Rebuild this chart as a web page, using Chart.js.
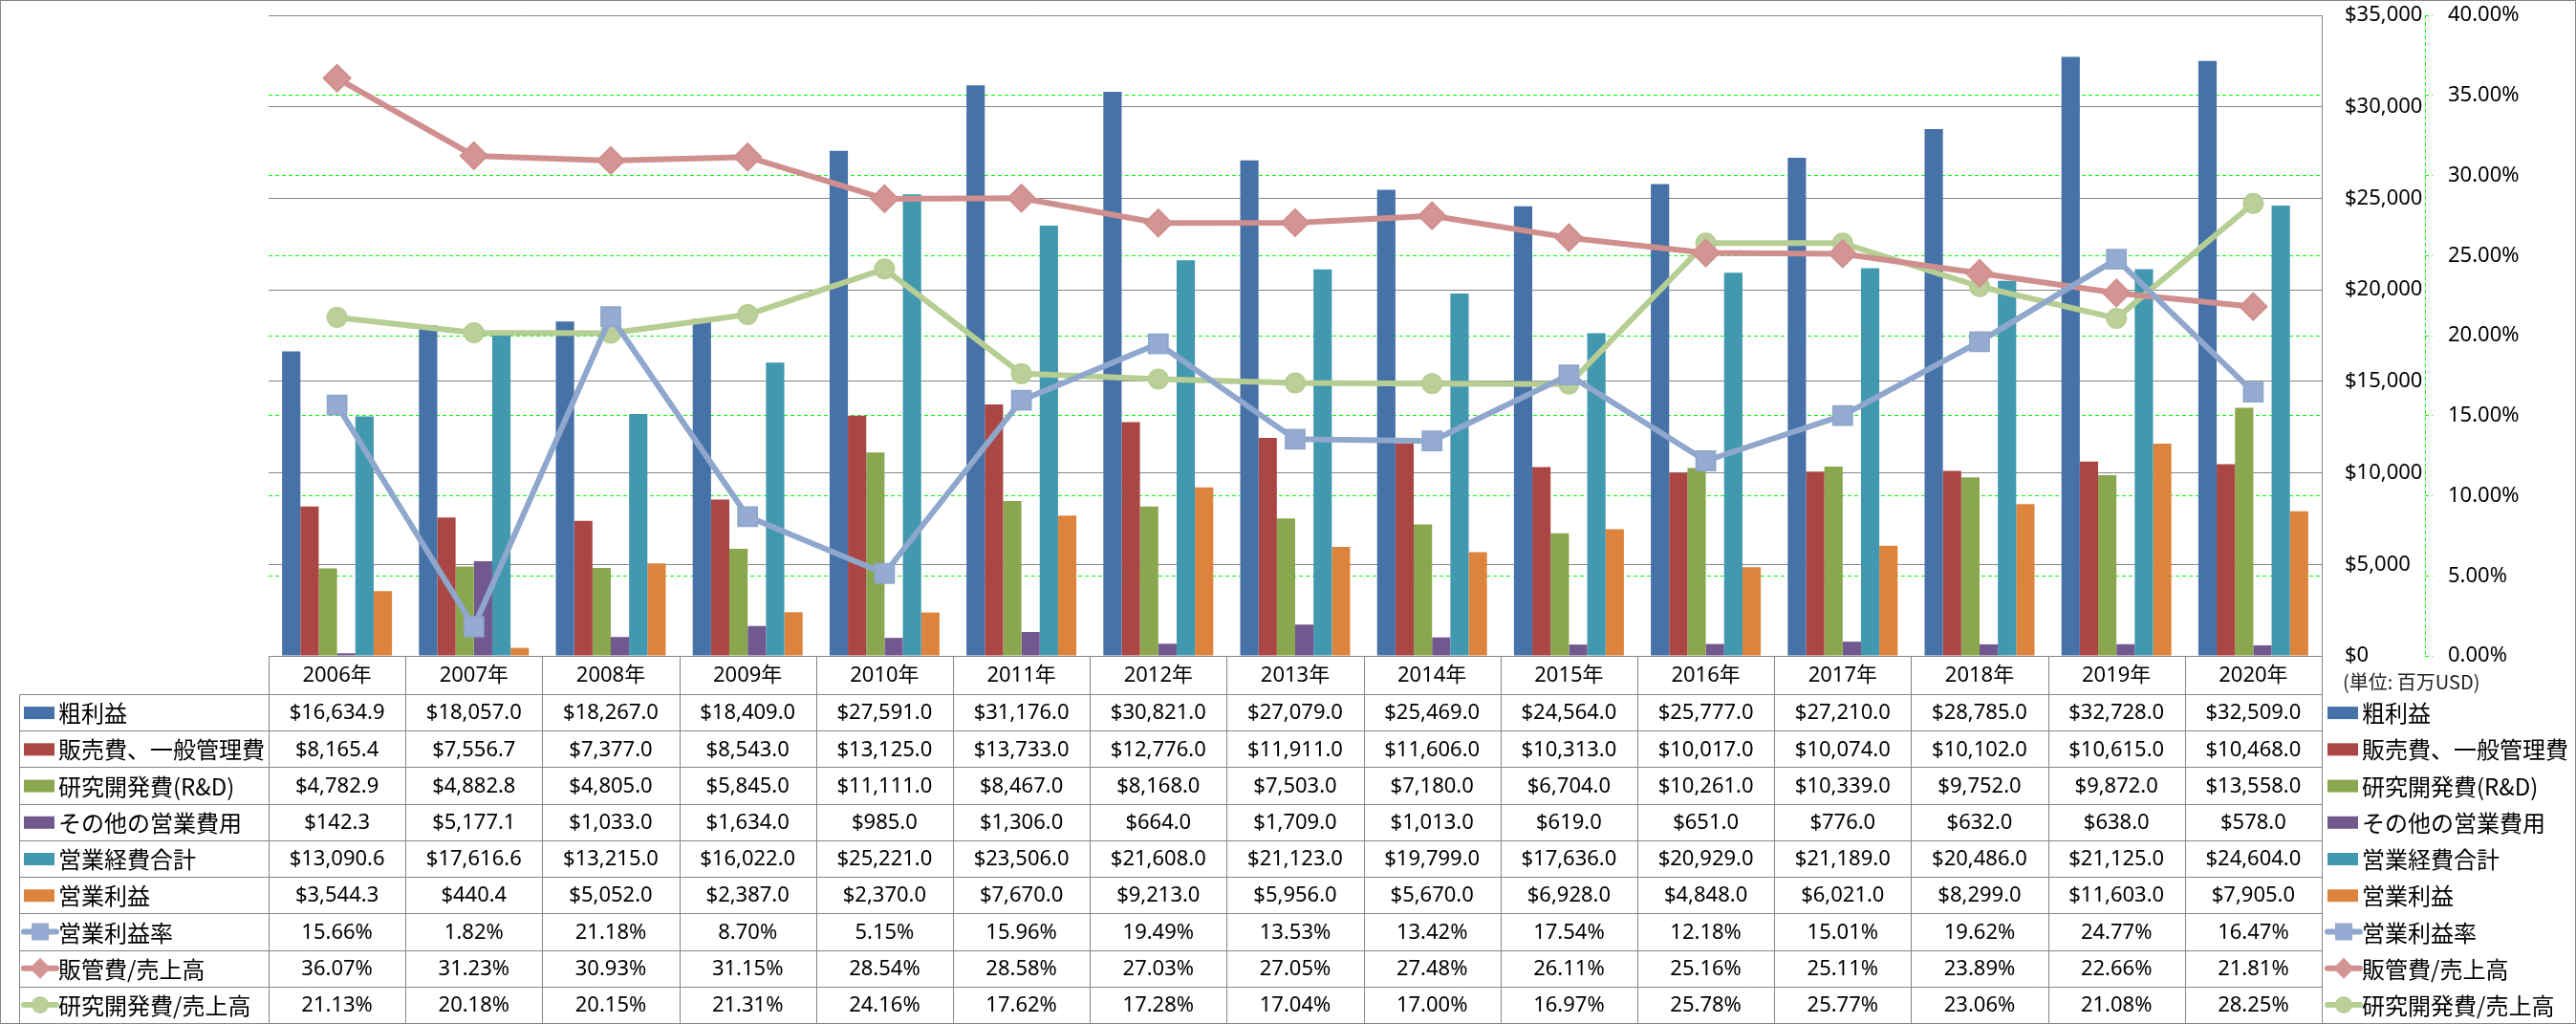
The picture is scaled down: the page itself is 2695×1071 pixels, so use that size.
<!DOCTYPE html>
<html>
  <head>
    <meta charset="utf-8">
    <title>営業利益推移</title>
    <script src="https://cdn.jsdelivr.net/npm/chart.js@4.4.0/dist/chart.umd.min.js"></script>
    <style media="screen">
      body {
        margin: 0;
        background-color: #ffffff;
      }
      #chartBox {
        width: 2695px;
        height: 1071px;
      }
    </style>
  </head>
  <body>
    <div id="chartBox">
      <canvas id="myChart" width="2695" height="1071"></canvas>
    </div>
  </body>
  <script>
    // values (百万USD / %)
    const years = ['2006年', '2007年', '2008年', '2009年', '2010年', '2011年', '2012年', '2013年',
                   '2014年', '2015年', '2016年', '2017年', '2018年', '2019年', '2020年'];
    const grossProfit = [16634.9, 18057.0, 18267.0, 18409.0, 27591.0, 31176.0, 30821.0, 27079.0,
                         25469.0, 24564.0, 25777.0, 27210.0, 28785.0, 32728.0, 32509.0];
    const sgaExpense = [8165.4, 7556.7, 7377.0, 8543.0, 13125.0, 13733.0, 12776.0, 11911.0,
                        11606.0, 10313.0, 10017.0, 10074.0, 10102.0, 10615.0, 10468.0];
    const rdExpense = [4782.9, 4882.8, 4805.0, 5845.0, 11111.0, 8467.0, 8168.0, 7503.0,
                       7180.0, 6704.0, 10261.0, 10339.0, 9752.0, 9872.0, 13558.0];
    const otherExpense = [142.3, 5177.1, 1033.0, 1634.0, 985.0, 1306.0, 664.0, 1709.0,
                          1013.0, 619.0, 651.0, 776.0, 632.0, 638.0, 578.0];
    const totalOpex = [13090.6, 17616.6, 13215.0, 16022.0, 25221.0, 23506.0, 21608.0, 21123.0,
                       19799.0, 17636.0, 20929.0, 21189.0, 20486.0, 21125.0, 24604.0];
    const opIncome = [3544.3, 440.4, 5052.0, 2387.0, 2370.0, 7670.0, 9213.0, 5956.0,
                      5670.0, 6928.0, 4848.0, 6021.0, 8299.0, 11603.0, 7905.0];
    const opMargin = [15.66, 1.82, 21.18, 8.70, 5.15, 15.96, 19.49, 13.53,
                      13.42, 17.54, 12.18, 15.01, 19.62, 24.77, 16.47];
    const sgaRatio = [36.07, 31.23, 30.93, 31.15, 28.54, 28.58, 27.03, 27.05,
                      27.48, 26.11, 25.16, 25.11, 23.89, 22.66, 21.81];
    const rdRatio = [21.13, 20.18, 20.15, 21.31, 24.16, 17.62, 17.28, 17.04,
                     17.00, 16.97, 25.78, 25.77, 23.06, 21.08, 28.25];

    const dollarTicks = [0, 5000, 10000, 15000, 20000, 25000, 30000, 35000];
    const pctTicks = [0, 5, 10, 15, 20, 25, 30, 35, 40];

    const gridGray = '#868686';
    const green = '#00ff00';
    const latinFont = '"Noto Sans", "Noto Sans CJK JP", sans-serif';
    const cjkFont = '"Noto Sans CJK JP", "Noto Sans", sans-serif';

    // series shown as bars (left to right inside a year)
    const barSeries = [
      {label: '粗利益', data: grossProfit, color: '#4672a8'},
      {label: '販売費、一般管理費', data: sgaExpense, color: '#aa4744'},
      {label: '研究開発費(R&D)', data: rdExpense, color: '#8aa64e'},
      {label: 'その他の営業費用', data: otherExpense, color: '#71598f'},
      {label: '営業経費合計', data: totalOpex, color: '#4298af'},
      {label: '営業利益', data: opIncome, color: '#dc843e'}
    ];
    // series shown as lines on the % axis
    const lineSeries = [
      {label: '営業利益率', data: opMargin, color: '#8fa7cd', fill: '#95abd1', marker: 'rect', radius: 14},
      {label: '販管費/売上高', data: sgaRatio, color: '#cf8f8e', fill: '#d39593', marker: 'rectRot', radius: 14},
      {label: '研究開発費/売上高', data: rdRatio, color: '#b6cd93', fill: '#bacf99', marker: 'circle', radius: 10}
    ];

    function fmtDollar(v) {
      return '$' + v.toLocaleString('en-US', {minimumFractionDigits: 1, maximumFractionDigits: 1});
    }
    function fmtPct(v) {
      return v.toFixed(2) + '%';
    }

    // small legend key drawn in the table cells
    function drawKey(ctx, s, isLine, x, y) {
      ctx.save();
      if (!isLine) {
        ctx.fillStyle = s.color;
        ctx.fillRect(x, y - 6, 32, 13);
      } else {
        ctx.strokeStyle = s.color;
        ctx.lineWidth = 6;
        ctx.lineCap = 'round';
        ctx.beginPath();
        ctx.moveTo(x, y);
        ctx.lineTo(x + 34, y);
        ctx.stroke();
        ctx.fillStyle = s.fill;
        const cx = x + 17;
        ctx.beginPath();
        if (s.marker === 'rect') {
          ctx.rect(cx - 9, y - 9, 18, 18);
        } else if (s.marker === 'rectRot') {
          ctx.moveTo(cx - 11, y);
          ctx.lineTo(cx, y - 11);
          ctx.lineTo(cx + 11, y);
          ctx.lineTo(cx, y + 11);
          ctx.closePath();
        } else {
          ctx.arc(cx, y, 9, 0, Math.PI * 2);
        }
        ctx.fill();
      }
      ctx.restore();
    }

    const dataTable = {
      id: 'dataTable',
      afterDraw(chart) {
        const {ctx, chartArea: area, scales} = chart;
        const x = scales.x;
        const step = x.getPixelForValue(1) - x.getPixelForValue(0);
        const colLeft = x.getPixelForValue(0) - step / 2;
        const top = area.bottom;
        const headH = 40;
        const bottom = chart.height - 1;
        const rowTop = top + headH;
        const rows = barSeries.map(s => ({s: s, line: false, fmt: fmtDollar}))
          .concat(lineSeries.map(s => ({s: s, line: true, fmt: fmtPct})));
        const rowH = (bottom - rowTop) / rows.length;
        const legendLeft = 20.5;
        const crisp = v => Math.round(v) + 0.5;

        ctx.save();
        ctx.strokeStyle = gridGray;
        ctx.lineWidth = 1;
        ctx.beginPath();
        ctx.moveTo(colLeft, crisp(top));
        ctx.lineTo(area.right, crisp(top));
        for (let i = 0; i <= rows.length; i++) {
          const yy = crisp(rowTop + i * rowH);
          ctx.moveTo(legendLeft, yy);
          ctx.lineTo(crisp(area.right), yy);
        }
        ctx.moveTo(legendLeft, crisp(rowTop));
        ctx.lineTo(legendLeft, crisp(bottom));
        for (let k = 0; k <= years.length; k++) {
          const xx = crisp(colLeft + k * step);
          ctx.moveTo(xx, crisp(top));
          ctx.lineTo(xx, crisp(bottom));
        }
        ctx.stroke();

        // outer frame and dashed % axis line
        ctx.strokeRect(0.5, 0.5, chart.width - 1, chart.height - 1);
        const y2 = scales.y2;
        ctx.strokeStyle = green;
        ctx.setLineDash([4, 3]);
        ctx.beginPath();
        ctx.moveTo(crisp(y2.left), y2.top);
        ctx.lineTo(crisp(y2.left), y2.bottom);
        ctx.stroke();
        ctx.setLineDash([]);

        ctx.fillStyle = '#000000';
        ctx.textBaseline = 'middle';

        // header: years
        ctx.textAlign = 'center';
        ctx.font = '22px ' + latinFont;
        years.forEach((yr, i) => {
          ctx.fillText(yr, x.getPixelForValue(i), top + headH / 2 + 1);
        });

        // values
        rows.forEach((r, j) => {
          const cy = rowTop + (j + 0.5) * rowH + 1;
          ctx.textAlign = 'center';
          ctx.font = '22px ' + latinFont;
          r.s.data.forEach((v, i) => {
            ctx.fillText(r.fmt(v), x.getPixelForValue(i), cy);
          });
          // left legend column
          drawKey(ctx, r.s, r.line, 25, cy - 1);
          ctx.textAlign = 'left';
          ctx.font = '24px ' + cjkFont;
          ctx.fillText(r.s.label, 61, cy);
          // right legend
          drawKey(ctx, r.s, r.line, area.right + 6, cy - 1);
          ctx.fillText(r.s.label, area.right + 42, cy);
        });

        ctx.font = '20px ' + cjkFont;
        ctx.fillStyle = '#222222';
        ctx.fillText('(単位: 百万USD)', area.right + 22, top + 27);
        ctx.restore();
      }
    };

    const datasets = [];
    lineSeries.forEach(s => {
      datasets.push({
        type: 'line',
        label: s.label,
        data: s.data,
        yAxisID: 'y2',
        order: 0,
        borderColor: s.color,
        borderWidth: 6,
        borderJoinStyle: 'round',
        borderCapStyle: 'round',
        pointStyle: s.marker,
        pointRadius: s.radius,
        pointBackgroundColor: s.fill,
        pointBorderColor: s.color,
        pointBorderWidth: 2,
        tension: 0
      });
    });
    barSeries.forEach(s => {
      datasets.push({
        type: 'bar',
        label: s.label,
        data: s.data,
        yAxisID: 'y',
        order: 1,
        backgroundColor: s.color,
        borderWidth: 0,
        categoryPercentage: 0.803,
        barPercentage: 1.0
      });
    });

    Chart.defaults.font.family = latinFont;
    Chart.defaults.font.size = 22;
    Chart.defaults.color = '#000000';

    // keep the axis label halves from pushing the plot area inwards
    function fitAxis(width) {
      return axis => {
        axis.width = width;
        axis.paddingTop = 0;
        axis.paddingBottom = 0;
      };
    }

    const ctx = document.getElementById('myChart').getContext('2d');
    const myChart = new Chart(ctx, {
      type: 'bar',
      data: {labels: years, datasets: datasets},
      options: {
        responsive: false,
        animation: false,
        events: [],
        layout: {padding: {left: 281, top: 14, right: 0, bottom: 385}},
        plugins: {
          legend: {display: false},
          tooltip: {enabled: false}
        },
        scales: {
          x: {
            display: false,
            offset: true
          },
          y: {
            position: 'right',
            min: 0,
            max: 35000,
            afterBuildTicks: axis => { axis.ticks = dollarTicks.map(v => ({value: v})); },
            afterFit: fitAxis(108),
            grid: {color: gridGray, drawTicks: false},
            border: {display: true, color: gridGray},
            ticks: {
              padding: 24,
              crossAlign: 'near',
              callback: v => '$' + Number(v).toLocaleString('en-US')
            }
          },
          y2: {
            position: 'right',
            min: 0,
            max: 40,
            afterBuildTicks: axis => { axis.ticks = pctTicks.map(v => ({value: v})); },
            afterFit: fitAxis(158),
            grid: {
              color: c => (c.tick && (c.tick.value === 0 || c.tick.value === 40)) ? 'rgba(0,0,0,0)' : green,
              tickColor: green,
              tickLength: 8,
              tickBorderDash: [4, 3]
            },
            border: {display: false, dash: [4, 3]},
            ticks: {
              padding: 16,
              crossAlign: 'near',
              callback: v => Number(v).toFixed(2) + '%'
            }
          }
        }
      },
      plugins: [dataTable]
    });
  </script>
</html>
